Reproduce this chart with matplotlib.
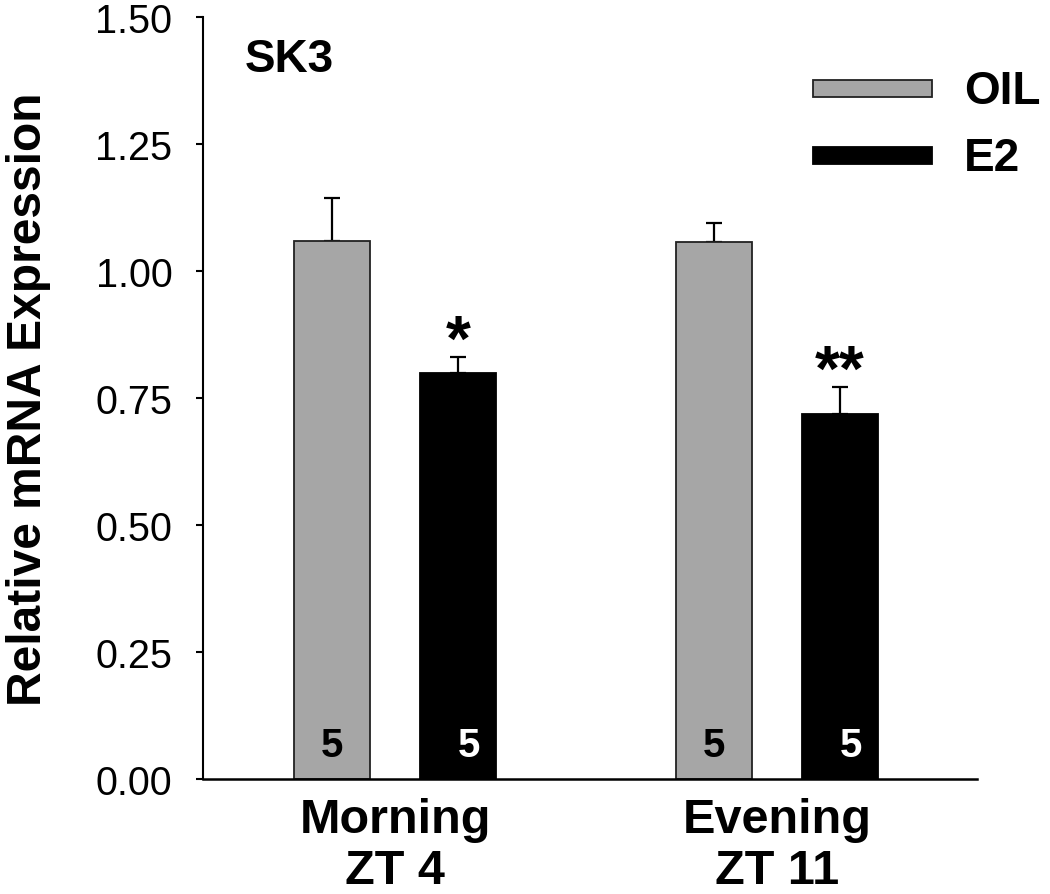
import matplotlib
matplotlib.use("Agg")
import matplotlib.pyplot as plt
import numpy as np

plt.rcParams['font.family'] = ['Liberation Sans', 'DejaVu Sans']

groups = ["Morning\nZT 4", "Evening\nZT 11"]
series = ["OIL", "E2"]
oil_vals = [1.060, 1.058]
oil_err = [0.083, 0.036]
e2_vals = [0.799, 0.718]
e2_err = [0.032, 0.054]
n_labels = ["5", "5"]
sig_marks = ["*", "**"]
yticks = [0.00, 0.25, 0.50, 0.75, 1.00, 1.25, 1.50]

fig = plt.figure(figsize=(10.5, 8.95), dpi=100)
ax = fig.add_axes([203/1050, 1-780/895, (977-203)/1050, (780-18)/895])

x = np.arange(len(groups))
w = 0.2
off = 0.165
ax.bar(x - off, oil_vals, w, color='#a6a6a6', edgecolor='#222222', linewidth=1.3, label=series[0], zorder=2)
ax.bar(x + off, e2_vals, w, color='black', edgecolor='black', linewidth=1.3, label=series[1], zorder=2)
ax.errorbar(x - off, oil_vals, yerr=[np.zeros(2), oil_err], fmt='none', ecolor='black',
            elinewidth=1.6, capsize=6, capthick=1.6, zorder=1)
ax.errorbar(x + off, e2_vals, yerr=[np.zeros(2), e2_err], fmt='none', ecolor='black',
            elinewidth=1.6, capsize=6, capthick=1.6, zorder=1)

for i in range(len(groups)):
    ax.text(x[i] - off, 0.066, n_labels[i], ha='center', va='center', fontsize=29,
            fontweight='bold', color='black', zorder=3)
    ax.text(x[i] + off + 0.029, 0.066, n_labels[i], ha='center', va='center', fontsize=29,
            fontweight='bold', color='white', zorder=3)
    ax.text(x[i] + off, e2_vals[i] + e2_err[i] - 0.005, sig_marks[i], ha='center', va='baseline',
            fontsize=46, fontweight='bold', color='black')

ax.set_xlim(-0.503, 1.524)
ax.set_ylim(0, 1.5)
ax.set_yticks(yticks)
ax.set_yticklabels([f"{t:.2f}" for t in yticks], fontsize=28.5)
ax.set_xticks(x)
ax.set_xticklabels(groups, fontsize=35, fontweight='bold', linespacing=1.17)
ax.tick_params(axis='x', length=0, pad=13)
ax.tick_params(axis='y', length=5, width=1.5, pad=17, direction='out')
ax.spines['top'].set_visible(False)
ax.spines['right'].set_visible(False)
ax.spines['left'].set_linewidth(1.5)
ax.spines['bottom'].set_linewidth(1.8)
ax.set_ylabel("Relative mRNA Expression", fontsize=34.5, fontweight='bold')
ax.yaxis.set_label_coords(-0.196, 0.5)

ax.text(245/1050, 1-60/895, "SK3", transform=fig.transFigure, fontsize=33, fontweight='bold',
        ha='left', va='center')

leg = ax.legend(loc='upper left', bbox_to_anchor=(813/1050, 1-70/895), bbox_transform=fig.transFigure,
                frameon=False, prop={'size': 33, 'weight': 'bold'}, handlelength=2.6, handleheight=0.3,
                handletextpad=0.7, labelspacing=0.5, borderpad=0, borderaxespad=0)
for h in leg.legend_handles:
    h.set_height(17 * 72 / 100)

fig.savefig("out.png", dpi=100)
